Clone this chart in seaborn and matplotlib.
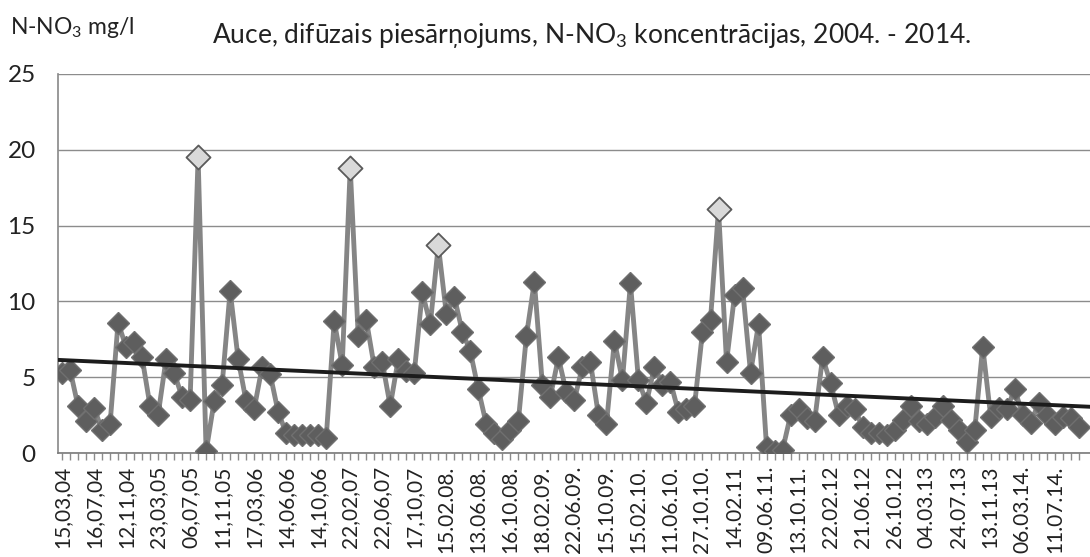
import numpy as np
import pandas as pd
import seaborn as sns
import matplotlib.pyplot as plt

# N-NO3 concentrations (one per sampling date)
values = [5.3, 5.5, 3.1, 2.1, 3.0, 1.5, 1.9, 8.6, 7.0, 7.3,
          6.3, 3.1, 2.5, 6.2, 5.3, 3.7, 3.5, 19.5, 0.1, 3.4,
          4.5, 10.7, 6.2, 3.4, 2.9, 5.7, 5.2, 2.7, 1.3, 1.2,
          1.2, 1.2, 1.2, 1.0, 8.7, 5.8, 18.8, 7.7, 8.8, 5.7,
          6.0, 3.1, 6.2, 5.4, 5.3, 10.6, 8.5, 13.7, 9.2, 10.3,
          8.0, 6.7, 4.2, 1.9, 1.3, 0.9, 1.5, 2.1, 7.7, 11.3,
          4.5, 3.7, 6.3, 4.0, 3.5, 5.7, 6.0, 2.5, 1.9, 7.4,
          4.8, 11.2, 4.8, 3.3, 5.7, 4.5, 4.7, 2.7, 2.9, 3.1,
          8.0, 8.8, 16.1, 6.0, 10.4, 10.9, 5.3, 8.5, 0.4, 0.1,
          0.2, 2.5, 2.9, 2.3, 2.1, 6.3, 4.6, 2.5, 3.1, 2.9,
          1.7, 1.3, 1.3, 1.2, 1.5, 2.2, 3.1, 2.1, 1.9, 2.4,
          3.1, 2.2, 1.5, 0.7, 1.5, 7.0, 2.4, 3.0, 2.9, 4.2,
          2.5, 2.0, 3.3, 2.5, 1.9, 2.4, 2.3, 1.7]

# peaks drawn with a light marker
highlight = [17, 36, 47, 82]

# every 4th date is labelled on the axis
date_labels = ["15,03,04", "16,07,04", "12,11,04", "23,03,05", "06,07,05", "11,11,05",
               "17,03,06", "14,06,06", "14,10,06", "22,02,07", "22,06,07", "17,10,07",
               "15.02.08.", "13.06.08.", "16.10.08.", "18.02.09.", "22.06.09.", "15.10.09.",
               "15.02.10.", "11.06.10.", "27.10.10.", "14.02.11", "09.06.11.", "13.10.11.",
               "22.02.12", "21.06.12", "26.10.12", "04.03.13", "24.07.13", "13.11.13",
               "06.03.14.", "11.07.14."]
label_step = 4

sns.set_theme(style="white")
plt.rcParams['font.family'] = ['Lato', 'DejaVu Sans']
plt.rcParams['mathtext.fontset'] = 'custom'
plt.rcParams['mathtext.rm'] = 'Lato'
plt.rcParams['mathtext.it'] = 'Lato'

df = pd.DataFrame({"idx": np.arange(len(values)), "val": values})

fig = plt.figure(figsize=(10.9, 5.57), dpi=100)
ax = fig.add_axes([58 / 1090, 1 - 453 / 557, 1 - 58 / 1090, (453 - 74) / 557])
ax.set_xlim(-0.5, 128.4)
ax.set_ylim(0, 25)

# grid
ax.set_yticks([0, 5, 10, 15, 20, 25])
ax.yaxis.grid(True, color="#8c8c8c", lw=1.0)
ax.set_axisbelow(True)

# series
sns.lineplot(data=df, x="idx", y="val", ax=ax, color="#858585", lw=3.5,
             marker="D", markersize=11, markerfacecolor="#5e5e5e",
             markeredgecolor="#707070", markeredgewidth=1.0, zorder=3)
sns.scatterplot(data=df.iloc[highlight], x="idx", y="val", ax=ax, marker="D",
                s=150, color="#d9d9d9", edgecolor="#5a5a5a", linewidth=1.3, zorder=4)

# linear trend
sns.regplot(data=df, x="idx", y="val", ax=ax, scatter=False, ci=None, truncate=False,
            color="#1c1c1c", line_kws={"lw": 2.8, "zorder": 5})
ax.set_xlim(-0.5, 128.4)

# axes
ax.set_xticks(np.arange(0, len(date_labels) * label_step, label_step))
ax.set_xticklabels(date_labels, rotation=90, fontsize=15, color="#222222")
ax.set_xticks(np.arange(len(values)), minor=True)
ax.tick_params(axis="x", which="both", direction="out", length=5, width=1,
               color="#8c8c8c", bottom=True, pad=4)
ax.tick_params(axis="y", labelsize=17.5, colors="#222222", length=0, pad=16)
ax.set_xlabel("")
ax.set_ylabel("")
for s in ["top", "right"]:
    ax.spines[s].set_visible(False)
ax.spines["left"].set_color("#8c8c8c")
ax.spines["bottom"].set_color("#7a7a7a")
ax.spines["bottom"].set_linewidth(1.2)

fig.text(10 / 1090, 1 - 28 / 557, r"N-NO$_3$ mg/l", fontsize=16.5, color="#222222",
         ha="left", va="center")
fig.text(212 / 1090, 1 - 36 / 557, r"Auce, difūzais piesārņojums, N-NO$_3$ koncentrācijas, 2004. - 2014.",
         fontsize=19, color="#222222", ha="left", va="center")

fig.savefig("out.png", dpi=100)
